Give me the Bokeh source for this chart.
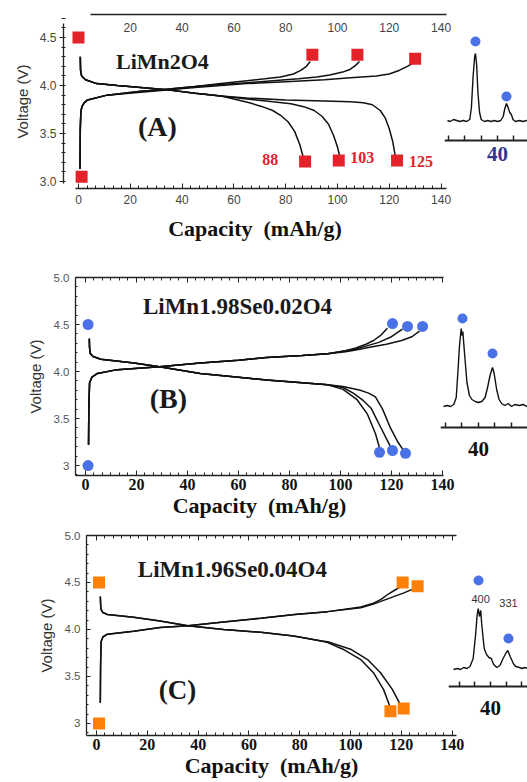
import numpy as np
from bokeh.plotting import figure
from bokeh.models import LinearAxis, FixedTicker, Range1d, Label
from bokeh.layouts import row, column
from bokeh.embed import file_html
from bokeh.resources import INLINE
from bokeh.core.properties import value

SERIF = "Liberation Serif"
SANS = "Liberation Sans"
RED = "#e4222a"
BLUE = "#4a72e6"
ORANGE = "#ff8008"
NAVY = "#33378c"
CAP_LABEL = "Capacity \u00a0(mAh/g)"

# ---------------- Panel A : LiMn2O4 ----------------
a_chg1_x = [0.6, 0.7, 0.9, 1.3, 2.2, 3.5, 11, 24, 33, 45, 55, 65, 72, 78, 83, 86, 88, 89.5]
a_chg1_y = [3.13, 3.55, 3.72, 3.78, 3.82, 3.85, 3.90, 3.94, 3.96, 3.99, 4.02, 4.05, 4.07, 4.09, 4.12, 4.16, 4.20, 4.25]
a_chg2_x = [0.6, 0.7, 0.9, 1.3, 2.2, 3.5, 11, 24, 33, 45, 55, 65, 75, 85, 92, 97, 102, 105, 107, 108.5]
a_chg2_y = [3.13, 3.55, 3.72, 3.78, 3.82, 3.85, 3.90, 3.94, 3.96, 3.99, 4.01, 4.03, 4.05, 4.07, 4.09, 4.11, 4.14, 4.17, 4.21, 4.25]
a_chg3_x = [0.6, 0.7, 0.9, 1.3, 2.2, 3.5, 11, 24, 33, 45, 55, 65, 80, 95, 105, 115, 120, 124, 127, 129.5]
a_chg3_y = [3.13, 3.55, 3.72, 3.78, 3.82, 3.85, 3.90, 3.93, 3.95, 3.98, 4.00, 4.02, 4.04, 4.06, 4.08, 4.10, 4.12, 4.16, 4.20, 4.24]
a_dch1_x = [0.7, 0.8, 1.2, 2.7, 7, 15, 24, 33, 45, 55, 60, 66, 71, 75, 78, 81, 83.5, 85.5, 86.8]
a_dch1_y = [4.30, 4.16, 4.10, 4.06, 4.02, 4.00, 3.98, 3.96, 3.92, 3.89, 3.86, 3.82, 3.78, 3.74, 3.69, 3.62, 3.52, 3.38, 3.25]
a_dch2_x = [0.7, 0.8, 1.2, 2.7, 7, 15, 24, 33, 45, 55, 65, 75, 82, 87, 91, 94, 96.5, 98.5, 100, 100.8]
a_dch2_y = [4.30, 4.16, 4.10, 4.06, 4.02, 4.00, 3.98, 3.96, 3.92, 3.89, 3.86, 3.83, 3.81, 3.78, 3.74, 3.68, 3.60, 3.48, 3.36, 3.27]
a_dch3_x = [0.7, 0.8, 1.2, 2.7, 7, 15, 24, 33, 45, 55, 65, 80, 95, 105, 110, 113.5, 116.5, 118.5, 120, 121.3, 122.3]
a_dch3_y = [4.30, 4.16, 4.10, 4.06, 4.02, 4.00, 3.98, 3.96, 3.92, 3.89, 3.87, 3.85, 3.84, 3.83, 3.82, 3.80, 3.74, 3.66, 3.55, 3.42, 3.27]
a_mark_x = [0, 1.2, 90.3, 107.7, 130, 87.5, 100.5, 123]
a_mark_y = [4.5, 3.05, 4.32, 4.32, 4.28, 3.21, 3.22, 3.22]
a_cap_labels = ["88", "103", "125"]
a_cap_x = [74, 109.6, 132.3]
a_cap_y = [3.23, 3.25, 3.21]

# ---------------- Panel B : LiMn1.98Se0.02O4 ----------------
b_chg1_x = [1.2, 1.3, 1.6, 2.5, 4.7, 12.5, 29, 45, 60, 71, 85, 95, 102, 106, 110, 113, 116, 118.4]
b_chg1_y = [3.22, 3.60, 3.88, 3.94, 3.98, 4.02, 4.05, 4.09, 4.12, 4.15, 4.17, 4.19, 4.22, 4.25, 4.29, 4.33, 4.39, 4.46]
b_chg2_x = [1.2, 1.3, 1.6, 2.5, 4.7, 12.5, 29, 45, 60, 71, 85, 95, 102, 106, 110, 115, 120, 124.3]
b_chg2_y = [3.22, 3.60, 3.88, 3.94, 3.98, 4.02, 4.05, 4.09, 4.12, 4.15, 4.17, 4.19, 4.22, 4.24, 4.27, 4.31, 4.37, 4.45]
b_chg3_x = [1.2, 1.3, 1.6, 2.5, 4.7, 12.5, 29, 45, 60, 71, 85, 95, 102, 106, 112, 118, 124, 128, 131]
b_chg3_y = [3.22, 3.60, 3.88, 3.94, 3.98, 4.02, 4.05, 4.09, 4.12, 4.15, 4.17, 4.19, 4.21, 4.23, 4.26, 4.29, 4.33, 4.37, 4.43]
b_dch1_x = [1.5, 1.6, 1.9, 3, 6, 19, 29, 45, 60, 71, 85, 95, 101, 106.5, 110.5, 113.7, 115.3]
b_dch1_y = [4.35, 4.25, 4.19, 4.16, 4.13, 4.09, 4.05, 3.98, 3.94, 3.91, 3.88, 3.86, 3.81, 3.70, 3.55, 3.34, 3.19]
b_dch2_x = [1.5, 1.6, 1.9, 3, 6, 19, 29, 45, 60, 71, 85, 95, 101, 105, 109, 112, 115.7, 118.5, 119.8]
b_dch2_y = [4.35, 4.25, 4.19, 4.16, 4.13, 4.09, 4.05, 3.98, 3.94, 3.91, 3.88, 3.86, 3.83, 3.77, 3.69, 3.61, 3.41, 3.26, 3.19]
b_dch3_x = [1.5, 1.6, 1.9, 3, 6, 19, 29, 45, 60, 71, 85, 95, 101, 107.8, 111, 113.7, 116.5, 119.6, 122.5, 124.5]
b_dch3_y = [4.35, 4.25, 4.19, 4.16, 4.13, 4.09, 4.05, 3.98, 3.94, 3.91, 3.88, 3.86, 3.84, 3.80, 3.77, 3.73, 3.60, 3.40, 3.25, 3.17]
b_mark_x = [1, 1, 120.4, 126.3, 132.2, 115.3, 120.4, 125.5]
b_mark_y = [4.5, 3.0, 4.51, 4.48, 4.48, 3.14, 3.16, 3.13]

# ---------------- Panel C : LiMn1.96Se0.04O4 ----------------
c_chg1_x = [1.5, 1.6, 1.8, 2.5, 4.3, 14.6, 25, 36, 50, 64.6, 78, 91, 104, 109, 112, 115, 117.5, 119.5]
c_chg1_y = [3.22, 3.60, 3.87, 3.92, 3.95, 3.98, 4.02, 4.04, 4.08, 4.12, 4.16, 4.19, 4.24, 4.28, 4.32, 4.38, 4.42, 4.45]
c_chg2_x = [1.5, 1.6, 1.8, 2.5, 4.3, 14.6, 25, 36, 50, 64.6, 78, 91, 104, 109, 113, 117, 121, 124.5]
c_chg2_y = [3.22, 3.60, 3.87, 3.92, 3.95, 3.98, 4.02, 4.04, 4.08, 4.12, 4.16, 4.19, 4.23, 4.27, 4.31, 4.35, 4.39, 4.43]
c_dch1_x = [1.5, 1.7, 2.5, 4.3, 14.6, 25, 36, 50, 64.6, 77.6, 88, 91, 97, 104, 109, 113, 115.5]
c_dch1_y = [4.35, 4.22, 4.18, 4.16, 4.13, 4.09, 4.04, 4.00, 3.97, 3.93, 3.88, 3.86, 3.79, 3.68, 3.54, 3.36, 3.18]
c_dch2_x = [1.5, 1.7, 2.5, 4.3, 14.6, 25, 36, 50, 64.6, 77.6, 88, 91, 100, 106.7, 111.8, 116.5, 119.8]
c_dch2_y = [4.35, 4.22, 4.18, 4.16, 4.13, 4.09, 4.04, 4.00, 3.97, 3.93, 3.88, 3.87, 3.79, 3.68, 3.54, 3.36, 3.19]
c_mark_x = [1, 1, 120.5, 126.4, 115.7, 120.9]
c_mark_y = [4.5, 3.0, 4.5, 4.46, 3.13, 3.16]

# ---------------- XRD insets (2-theta, intensity) ----------------
xa_2t = [36.93, 37.1, 37.3, 37.5, 37.7, 37.9, 38.1, 38.3, 38.4, 38.5, 38.6, 38.65, 38.72, 38.8, 38.9, 39.0,
         39.2, 39.4, 39.6, 39.8, 40.0, 40.2, 40.35, 40.45, 40.55, 40.65, 40.75, 40.85, 40.95, 41.1, 41.35,
         41.55, 41.8]
xa_int = [2, 1, 3, 2, 1, 2, 1, 3, 15, 45, 66, 69, 58, 30, 10, 3,
          1, 2, 1, 2, 1, 2, 6, 14, 19, 15, 10, 8, 3, 1, 2,
          1, 2]
xa_dot_x = [38.65, 40.55]
xa_dot_y = [81, 26]

xb_2t = [37.88, 38.1, 38.3, 38.5, 38.65, 38.75, 38.85, 38.95, 39.0, 39.05, 39.15, 39.3, 39.45, 39.6, 39.8, 40.0,
         40.2, 40.4, 40.55, 40.7, 40.85, 40.95, 41.1, 41.25, 41.4, 41.6, 41.8, 42.0, 42.2, 42.48, 42.7, 42.95]
xb_int = [1, 2, 1, 3, 10, 35, 62, 79, 72, 76, 55, 25, 12, 8, 6, 5,
          6, 10, 20, 32, 40, 34, 18, 8, 4, 2, 4, 1, 3, 2, 3, 1]
xb_dot_x = [39.03, 40.85]
xb_dot_y = [89, 54]

xc_2t = [37.65, 37.9, 38.1, 38.3, 38.5, 38.7, 38.9, 39.05, 39.15, 39.22, 39.3, 39.38, 39.45, 39.6, 39.75, 39.9,
         40.05, 40.2, 40.4, 40.6, 40.8, 41.0, 41.1, 41.25, 41.45, 41.6, 41.84, 42.0, 42.2, 42.35]
xc_int = [1, 2, 1, 3, 2, 4, 12, 35, 55, 62, 54, 60, 45, 22, 16, 13,
          12, 6, 3, 5, 12, 18, 20, 14, 7, 4, 3, 2, 3, 2]
xc_dot_x = [39.24, 41.14]
xc_dot_y = [90, 32]
xc_peak_labels = ["400", "331"]

X_MAJOR = [0, 20, 40, 60, 80, 100, 120, 140]
X_MINOR = [round(i * 10 / 3, 3) for i in range(0, 43)]
V_MINOR = [round(2.9 + 0.1 * i, 2) for i in range(0, 22)]


def make_main(w, h, xr, yr, mb):
    p = figure(width=w, height=h, x_range=Range1d(*xr), y_range=Range1d(*yr),
               output_backend="svg", toolbar_location=None,
               min_border_left=mb[0], min_border_right=mb[1],
               min_border_top=mb[2], min_border_bottom=mb[3])
    p.outline_line_color = None
    p.xgrid.visible = False
    p.ygrid.visible = False
    p.background_fill_color = "white"
    p.border_fill_color = "white"
    return p


def line_style(ax, w=1.3):
    ax.axis_line_color = "#222222"
    ax.axis_line_width = w
    ax.major_tick_line_color = "#222222"
    ax.minor_tick_line_color = "#222222"


def make_inset(w, h, xr, yr, mb, left_margin, axis_at, xs, ys, dx, dy, lab_color, standoff):
    p = figure(width=w, height=h, x_range=Range1d(*xr), y_range=Range1d(*yr),
               output_backend="svg", toolbar_location=None, y_axis_location=None,
               min_border_left=0, min_border_right=0,
               min_border_top=mb[0], min_border_bottom=mb[1])
    p.margin = (0, 0, 0, left_margin)
    p.background_fill_color = None
    p.border_fill_color = None
    p.outline_line_color = None
    p.xgrid.visible = False
    p.ygrid.visible = False
    p.line(xs, ys, line_color="#111111", line_width=1.4)
    p.scatter(dx, dy, marker="circle", size=10, fill_color=BLUE, line_color=None)
    ax = p.xaxis[0]
    ax.fixed_location = axis_at
    ax.ticker = FixedTicker(ticks=[40], minor_ticks=[37, 38, 39, 41, 42])
    line_style(ax, 1.8)
    ax.major_tick_in = 5
    ax.major_tick_out = 0
    ax.minor_tick_in = 5
    ax.minor_tick_out = 0
    ax.minor_tick_line_width = 1.5
    ax.major_tick_line_width = 1.5
    ax.major_label_text_font = SERIF
    ax.major_label_text_font_style = "bold"
    ax.major_label_text_font_size = "21px"
    ax.major_label_text_color = lab_color
    ax.major_label_standoff = standoff
    return p


def add_curves(p, curves):
    for xs, ys in curves:
        p.line(xs, ys, line_color="#111111", line_width=1.5)


def style_serif_panel(p):
    xb = p.xaxis[0]
    xb.ticker = FixedTicker(ticks=X_MAJOR, minor_ticks=X_MINOR)
    line_style(xb)
    xb.major_tick_in = 5
    xb.major_tick_out = 0
    xb.minor_tick_in = 3
    xb.minor_tick_out = 0
    xb.major_label_text_font = SERIF
    xb.major_label_text_font_style = "bold"
    xb.major_label_text_font_size = "16px"
    xb.major_label_text_color = "#111111"
    xb.major_label_standoff = 3
    xb.axis_label = CAP_LABEL
    xb.axis_label_text_font = SERIF
    xb.axis_label_text_font_style = "bold"
    xb.axis_label_text_font_size = "22px"
    xb.axis_label_text_color = "#111111"
    xb.axis_label_standoff = 0

    yb = p.yaxis[0]
    yb.ticker = FixedTicker(ticks=[3.0, 3.5, 4.0, 4.5, 5.0], minor_ticks=V_MINOR)
    yb.major_label_overrides = {3.0: "3", 3.5: "3.5", 4.0: "4.0", 4.5: "4.5", 5.0: "5.0"}
    line_style(yb)
    yb.major_tick_in = 4
    yb.major_tick_out = 0
    yb.minor_tick_in = 2
    yb.minor_tick_out = 0
    yb.major_label_text_font = SANS
    yb.major_label_text_font_size = "11.5px"
    yb.major_label_text_color = "#555555"
    yb.major_label_standoff = 6
    yb.axis_label = "Voltage (V)"
    yb.axis_label_text_font = SANS
    yb.axis_label_text_font_style = "normal"
    yb.axis_label_text_font_size = "15px"
    yb.axis_label_text_color = "#333333"
    yb.axis_label_standoff = 7

    top = LinearAxis(ticker=FixedTicker(ticks=X_MAJOR, minor_ticks=X_MINOR))
    line_style(top)
    top.major_tick_in = 5
    top.major_tick_out = 0
    top.minor_tick_in = 3
    top.minor_tick_out = 0
    top.major_label_overrides = {t: "" for t in X_MAJOR}
    top.major_label_standoff = 0
    p.add_layout(top, "above")


def big_label(p, x, y, text, size):
    p.add_layout(Label(x=x, y=y, text=text, text_font=SERIF, text_font_style="bold",
                       text_font_size=size, text_align="center", text_baseline="middle",
                       text_color="#1a1a1a"))


# ================= Panel A =================
pA = make_main(454, 244, (-5.79, 142.1), (2.9275, 4.74), (63, 8, 14, 56))
add_curves(pA, [(a_chg1_x, a_chg1_y), (a_chg2_x, a_chg2_y), (a_chg3_x, a_chg3_y),
                (a_dch1_x, a_dch1_y), (a_dch2_x, a_dch2_y), (a_dch3_x, a_dch3_y)])
pA.scatter(a_mark_x, a_mark_y, marker="square", size=12, fill_color=RED, line_color=None)
pA.text(x=a_cap_x, y=a_cap_y, text=a_cap_labels, text_font=value(SERIF), text_font_style="bold",
        text_font_size="16px", text_color=RED, text_align="center", text_baseline="middle")
big_label(pA, 32.4, 4.25, "LiMn2O4", "22px")
big_label(pA, 30.5, 3.57, "(A)", "28px")

xa = pA.xaxis[0]
xa.ticker = FixedTicker(ticks=X_MAJOR, minor_ticks=X_MINOR)
xa.bounds = (-1.2, 142.1)
line_style(xa)
xa.major_tick_in = 5
xa.major_tick_out = 0
xa.minor_tick_in = 3
xa.minor_tick_out = 0
xa.major_label_text_font = SANS
xa.major_label_text_font_size = "12px"
xa.major_label_text_color = "#444444"
xa.major_label_standoff = 6
xa.axis_label = CAP_LABEL
xa.axis_label_text_font = SERIF
xa.axis_label_text_font_style = "bold"
xa.axis_label_text_font_size = "22px"
xa.axis_label_text_color = "#111111"
xa.axis_label_standoff = 9

ya = pA.yaxis[0]
ya.ticker = FixedTicker(ticks=[3.0, 3.5, 4.0, 4.5], minor_ticks=V_MINOR)
ya.major_label_overrides = {3.0: "3.0", 3.5: "3.5", 4.0: "4.0", 4.5: "4.5"}
ya.bounds = (2.98, 4.65)
line_style(ya)
ya.major_tick_in = 0
ya.major_tick_out = 4
ya.minor_tick_in = 2
ya.minor_tick_out = 2
ya.major_label_text_font = SANS
ya.major_label_text_font_size = "12px"
ya.major_label_text_color = "#444444"
ya.major_label_standoff = 3
ya.axis_label = "Voltage (V)"
ya.axis_label_text_font = SANS
ya.axis_label_text_font_style = "normal"
ya.axis_label_text_font_size = "15px"
ya.axis_label_text_color = "#333333"
ya.axis_label_standoff = 6

ta = LinearAxis(ticker=FixedTicker(ticks=X_MAJOR[1:]), bounds=(4.5, 142.1))
line_style(ta, 1.5)
ta.major_tick_in = 0
ta.major_tick_out = 0
ta.minor_tick_line_color = None
ta.major_label_text_font = SANS
ta.major_label_text_font_size = "12px"
ta.major_label_text_color = "#444444"
ta.major_label_standoff = -17
pA.add_layout(ta, "above")

iA = make_inset(83, 244, (36.75, 41.84), (-66, 108), (14, 56), -10, -18,
                xa_2t, xa_int, xa_dot_x, xa_dot_y, NAVY, 6)

# ================= Panel B =================
pB = make_main(455, 282, (-3.92, 140.4), (2.894, 5.0), (75, 12, 33, 51))
add_curves(pB, [(b_chg1_x, b_chg1_y), (b_chg2_x, b_chg2_y), (b_chg3_x, b_chg3_y),
                (b_dch1_x, b_dch1_y), (b_dch2_x, b_dch2_y), (b_dch3_x, b_dch3_y)])
pB.scatter(b_mark_x, b_mark_y, marker="circle", size=11, fill_color=BLUE, line_color=None)
style_serif_panel(pB)
big_label(pB, 59.6, 4.69, "LiMn1.98Se0.02O4", "23px")
big_label(pB, 32.5, 3.71, "(B)", "28px")

iB = make_inset(87, 282, (37.697, 42.97), (-68, 130), (33, 51), -15, -20,
                xb_2t, xb_int, xb_dot_x, xb_dot_y, "#111111", 14)

# ================= Panel C =================
pC = make_main(468, 256, (-3.94, 141.7), (2.872, 5.0), (86, 12, 9, 47))
add_curves(pC, [(c_chg1_x, c_chg1_y), (c_chg2_x, c_chg2_y),
                (c_dch1_x, c_dch1_y), (c_dch2_x, c_dch2_y)])
pC.scatter(c_mark_x, c_mark_y, marker="square", size=12, fill_color=ORANGE, line_color=None)
style_serif_panel(pC)
big_label(pC, 53.5, 4.64, "LiMn1.96Se0.04O4", "23px")
big_label(pC, 31.9, 3.36, "(C)", "27px")

iC = make_inset(79, 256, (37.333, 42.35), (-65, 135), (9, 47), -20, -16,
                xc_2t, xc_int, xc_dot_x, xc_dot_y, "#111111", 14)
iC.text(x=[39.37, 41.14], y=[72, 68], text=xc_peak_labels, text_font=value(SANS),
        text_font_size="11px", text_color="#333333", text_align="center", text_baseline="middle")

layout = column(row(pA, iA), row(pB, iB), row(pC, iC))

with open("out.html", "w") as f:
    f.write(file_html(layout, INLINE))
